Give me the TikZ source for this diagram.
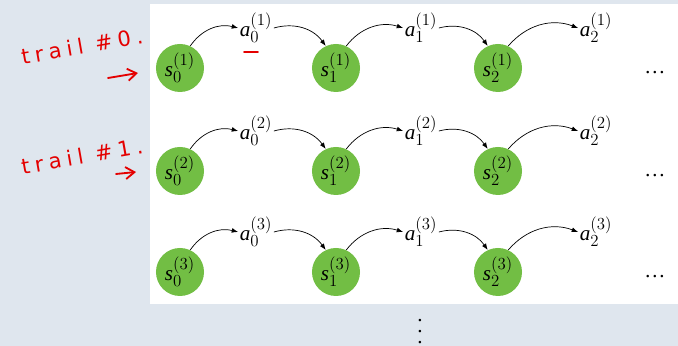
\documentclass[tikz,border=0pt]{standalone}
\usepackage{fontspec}
\setmainfont{Liberation Serif}
\setmathrm{Liberation Serif}
\newfontfamily\handfont[LetterSpace=25]{DejaVu Sans}
\DeclareMathSizes{15}{15}{11.5}{9}
\usepackage{tikz}
\usetikzlibrary{
    arrows.meta,
    positioning
}
\definecolor{slidebg}{RGB}{223,230,238}
\definecolor{stategreen}{RGB}{114,190,68}
\definecolor{penred}{RGB}{228,0,0}
\newcommand{\sv}[2]{$\textit{s}_{#1}^{(#2)}$}
\newcommand{\av}[2]{$\textit{a}_{#1}^{(#2)}$}
\newcommand{\tallvdots}{\vbox{\baselineskip7.8pt\lineskiplimit0pt\hbox{.}\hbox{.}\hbox{.}}}

\begin{document}
\begin{tikzpicture}[
            x=0.025cm, y=0.025cm,
            font=\fontsize{15}{18}\selectfont,
            >=Latex,
            state/.style={circle, fill=stategreen, minimum size=1.2cm, inner sep=0pt},
            act/.style={inner sep=1pt},
            arr/.style={-{Latex[length=1.6mm, width=1.2mm]}, line width=0.5pt, black},
            note/.style={text=penred, font=\handfont\fontsize{15}{18}\selectfont, rotate=10},
            pen/.style={penred, line width=1.3pt, line cap=round},
            parr/.style={pen, -{Straight Barb[length=2.2mm, width=3mm]}}
        ]
            \useasboundingbox (0,0) rectangle (678,346);
            \fill[slidebg] (0,0) rectangle (678,346);
            \fill[white] (150,42) rectangle (678,342);

            % ====== Trail 1 ======
            \node[state] (s0a) at (180,278) {\sv{0}{1}};
            \node[state] (s1a) at (336,278) {\sv{1}{1}};
            \node[state] (s2a) at (498,278) {\sv{2}{1}};
            \node[act] (a0a) at (256,318) {\av{0}{1}};
            \node[act] (a1a) at (421,318) {\av{1}{1}};
            \node[act] (a2a) at (596,318) {\av{2}{1}};
            \node[anchor=base] (dota) at (655,272) {\dots};

            \draw[arr] (s0a.65) to[bend left=35] (a0a.west);
            \draw[arr] (a0a.east) to[bend left=35] (s1a.115);
            \draw[arr] (s1a.65) to[bend left=35] (a1a.west);
            \draw[arr] (a1a.east) to[bend left=35] (s2a.115);
            \draw[arr] (s2a.65) to[bend left=35] (a2a.west);

            % ====== Trail 2 ======
            \node[state] (s0b) at (180,175) {\sv{0}{2}};
            \node[state] (s1b) at (336,175) {\sv{1}{2}};
            \node[state] (s2b) at (498,175) {\sv{2}{2}};
            \node[act] (a0b) at (256,215) {\av{0}{2}};
            \node[act] (a1b) at (421,215) {\av{1}{2}};
            \node[act] (a2b) at (596,215) {\av{2}{2}};
            \node[anchor=base] (dotb) at (655,169) {\dots};

            \draw[arr] (s0b.65) to[bend left=35] (a0b.west);
            \draw[arr] (a0b.east) to[bend left=35] (s1b.115);
            \draw[arr] (s1b.65) to[bend left=35] (a1b.west);
            \draw[arr] (a1b.east) to[bend left=35] (s2b.115);
            \draw[arr] (s2b.65) to[bend left=35] (a2b.west);

            % ====== Trail 3 ======
            \node[state] (s0c) at (180,74) {\sv{0}{3}};
            \node[state] (s1c) at (336,74) {\sv{1}{3}};
            \node[state] (s2c) at (498,74) {\sv{2}{3}};
            \node[act] (a0c) at (256,114) {\av{0}{3}};
            \node[act] (a1c) at (421,114) {\av{1}{3}};
            \node[act] (a2c) at (596,114) {\av{2}{3}};
            \node[anchor=base] (dotc) at (655,68) {\dots};

            \draw[arr] (s0c.65) to[bend left=35] (a0c.west);
            \draw[arr] (a0c.east) to[bend left=35] (s1c.115);
            \draw[arr] (s1c.65) to[bend left=35] (a1c.west);
            \draw[arr] (a1c.east) to[bend left=35] (s2c.115);
            \draw[arr] (s2c.65) to[bend left=35] (a2c.west);

            \node[inner sep=0pt] (vdot) at (420,14) {\tallvdots};

            % ====== Pen notes ======
            \node[note] (trail0) at (82,300) {trail \#0.};
            \node[note] (trail1) at (82,190) {trail \#1.};
            \coordinate (p0) at (108,268);
            \coordinate (q0) at (138,273);
            \coordinate (p1) at (116,172);
            \coordinate (q1) at (136,174);
            \draw[parr] (p0) -- (q0);
            \draw[parr] (p1) -- (q1);
            \coordinate (u0) at (244,294);
            \coordinate (u1) at (258,294);
            \draw[pen] (u0) -- (u1);
        \end{tikzpicture}
\end{document}
